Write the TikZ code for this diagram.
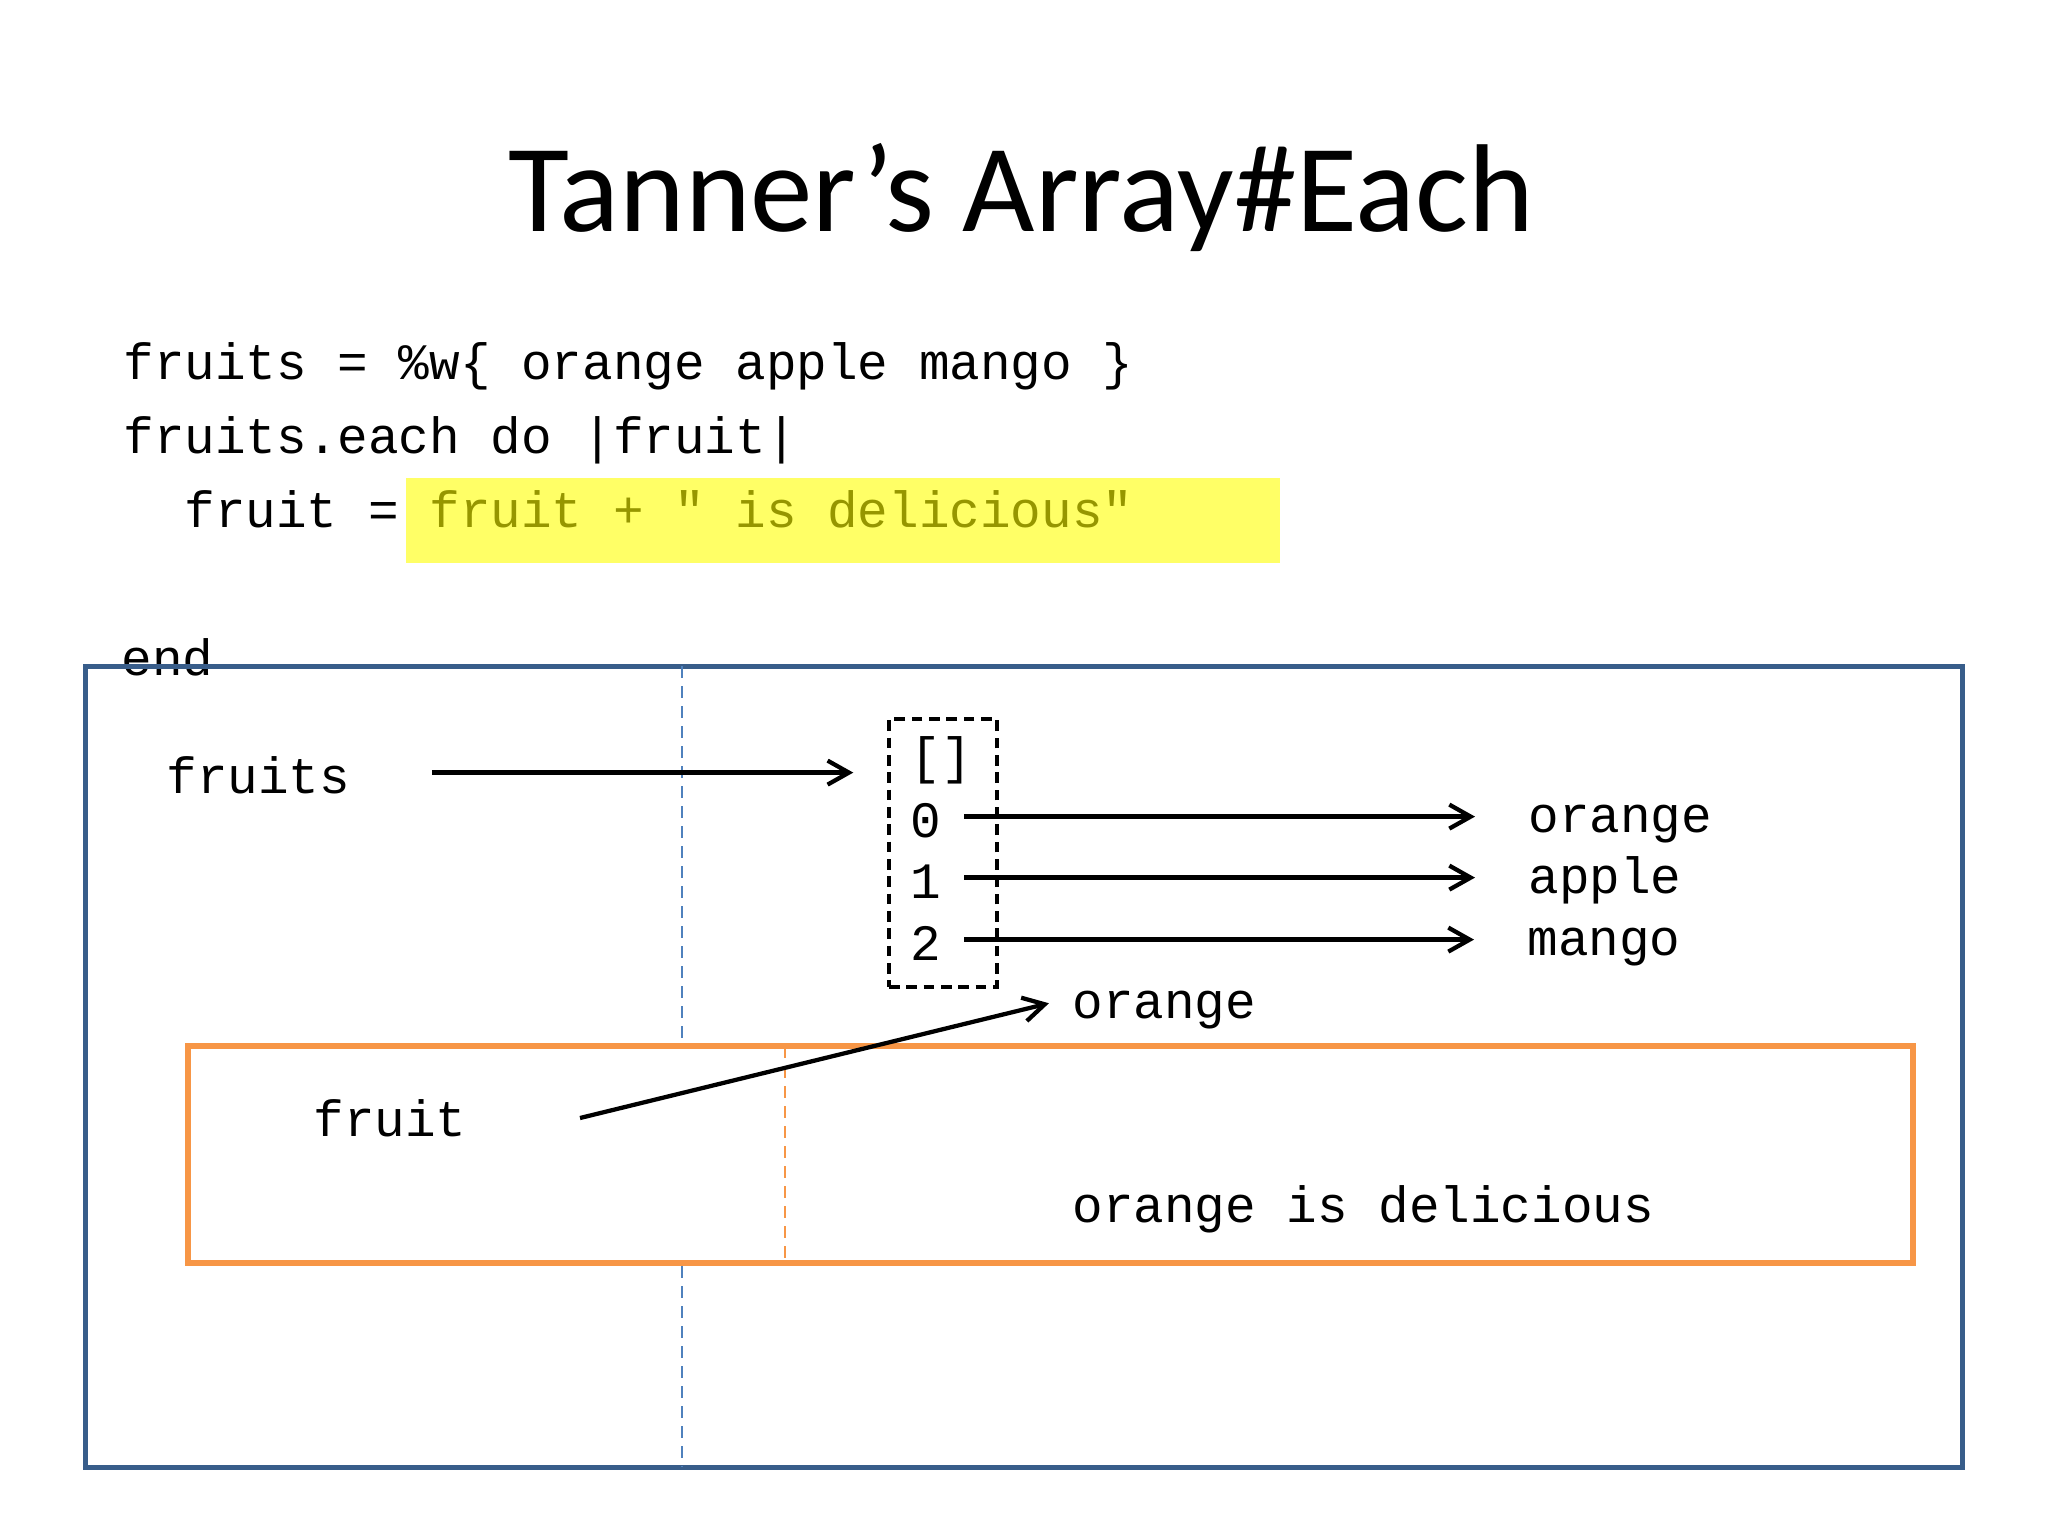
\documentclass[tikz,border=0pt]{standalone}
\usepackage{fontspec}
\setmainfont{Carlito}
\newfontfamily\rubyfont{Liberation Mono}
\usetikzlibrary{arrows.meta}
\definecolor{frameblue}{RGB}{56,93,138}
\definecolor{lineblue}{RGB}{79,129,189}
\definecolor{blockorange}{RGB}{247,150,70}
\definecolor{hiyellow}{RGB}{255,255,102}
\definecolor{hitext}{RGB}{150,150,0}
\tikzset{
	code/.style={font=\rubyfont\fontsize{38.25}{46}\selectfont, inner sep=0pt, text height=30.6pt, text depth=0pt, anchor=base west},
	ptr/.style={-{Straight Barb[length=16pt,width=18pt]}, line width=3.2pt},
	dbox/.style={draw, dashed, dash pattern=on 8pt off 5pt, line width=2.6pt, inner sep=0pt}}
\tikzset{every picture/.style={line width=0.75pt}}

\begin{document}
\begin{tikzpicture}[x=0.75pt,y=0.75pt,yscale=-1,xscale=1]
\useasboundingbox (0,0) rectangle (2048,1536);

% Title
\node [anchor=base, inner sep=0pt, font=\fontsize{93.75}{112}\selectfont] (title) at (1021,231) {Tanner’s Array\#Each};

%Highlight [yellow]
\fill [hiyellow] (406,478) rectangle (1280,563);

% Code lines
\node [code] (line1) at (123,379) {fruits = \%w\{ orange apple mango \}};
\node [code] (line2) at (123,453) {fruits.each do |fruit|};
\node [code] (line3) at (184,527) {fruit =};
\node [code, text=hitext] (line3b) at (429,527) {fruit + " is delicious"};
\node [code] (line4) at (121,675) {end};

%Outer frame [blue]
\draw [frameblue, line width=3.75pt] (85,666) rectangle (1962,1467);
\draw [lineblue, line width=2.2pt, dash pattern=on 9pt off 6pt] (682,666) -- (682,1467);

%Inner frame [orange]
\draw [blockorange, fill=white, line width=4.3pt] (188,1046) rectangle (1913,1263);
\draw [blockorange, line width=2.2pt, dash pattern=on 9pt off 6pt] (785,1046) -- (785,1263);

% Array box
\node [dbox, minimum width=81pt, minimum height=201pt] (arr) at (943,853) {};
\node [code, anchor=base] (brk) at (941,773) {[]};
\node [code, anchor=base] (idx0) at (926,837) {0};
\node [code, anchor=base] (idx1) at (926,898) {1};
\node [code, anchor=base] (idx2) at (926,960) {2};

% Values
\node [code] (val0) at (1528,832) {orange};
\node [code] (val1) at (1528,893) {apple};
\node [code] (val2) at (1527,955) {mango};

% Variables
\node [code] (fruitsvar) at (166,793) {fruits};
\node [code] (fruitvar) at (313,1136) {fruit};
\node [code] (cur) at (1072,1018) {orange};
\node [code] (res) at (1072,1222) {orange is delicious};

%Straight Lines
\draw [ptr, shorten <=61pt, shorten >=25.5pt] (fruitsvar.east) -- (fruitsvar.east -| arr.west);
\draw [ptr, shorten <=17pt, shorten >=39.75pt] (idx0.east) -- (idx0.east -| val0.west);
\draw [ptr, shorten <=17pt, shorten >=39.75pt] (idx1.east) -- (idx1.east -| val1.west);
\draw [ptr, shorten <=17pt, shorten >=39.75pt] (idx2.east) -- (idx2.east -| val2.west);
\coordinate (fruittail) at (580,1118);
\draw [ptr, shorten >=17.8pt] (fruittail) -- (cur.west);

\end{tikzpicture}
\end{document}
